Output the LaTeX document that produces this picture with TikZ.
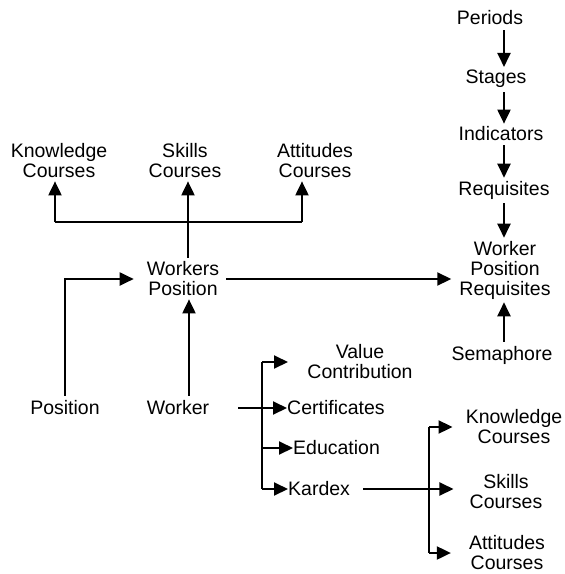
\documentclass[tikz,border=0pt]{standalone}
\usepackage{fontspec}
\setmainfont{Liberation Sans}
\usetikzlibrary{arrows.meta}
\begin{document}
\begin{tikzpicture}[x=1pt,y=-1pt,
  lbl/.style={inner sep=0pt, align=center, font=\fontsize{19.5}{20}\selectfont},
  ln/.style={line width=2pt},
  arr/.style={line width=2pt, -{Triangle[length=14pt,width=13pt]}}]
\useasboundingbox (0,0) rectangle (565,574);
% right column
\node[lbl] (periods) at (490,18) {Periods};
\node[lbl] (stages) at (496,79) {Stages};
\node[lbl] (indic) at (501,134) {Indicators};
\node[lbl] (requis) at (504,190) {Requisites};
\node[lbl] (wpr) at (505,270) {Worker\\Position\\Requisites};
\node[lbl] (sema) at (502,355) {Semaphore};
% top left courses
\node[lbl] (know1) at (59,161) {Knowledge\\Courses};
\node[lbl] (skill1) at (185,161) {Skills\\Courses};
\node[lbl] (att1) at (315,161) {Attitudes\\Courses};
\node[lbl] (wp) at (183,279) {Workers\\Position};
\node[lbl] (pos) at (65,408) {Position};
\node[lbl] (worker) at (178,408) {Worker};
% worker attributes
\node[lbl] (value) at (360,362) {Value\\Contribution};
\node[lbl, anchor=west] (cert) at (287,408) {Certificates};
\node[lbl, anchor=west] (edu) at (293,448) {Education};
\node[lbl, anchor=west] (kardex) at (288,489) {Kardex};
% bottom right courses
\node[lbl] (know2) at (514,427) {Knowledge\\Courses};
\node[lbl] (skill2) at (506,492) {Skills\\Courses};
\node[lbl] (att2) at (507,553) {Attitudes\\Courses};
% coordinates
\coordinate (col) at (504,0);
\coordinate (kb) at (55,222);
\coordinate (sb) at (188,222);
\coordinate (ab) at (302,222);
\coordinate (wbus) at (189,0);
\coordinate (vb) at (262,362);
\coordinate (vtip) at (288,362);
\coordinate (kbus) at (429,0);
% right column arrows
\draw[arr, shorten <=5pt, shorten >=3pt] (periods.south -| col) -- (stages.north -| col);
\draw[arr, shorten <=4pt, shorten >=3pt] (stages.south -| col) -- (indic.north -| col);
\draw[arr, shorten <=4pt, shorten >=3pt] (indic.south -| col) -- (requis.north -| col);
\draw[arr, shorten <=4pt, shorten >=3pt] (requis.south -| col) -- (wpr.north -| col);
\draw[arr, shorten <=4pt, shorten >=3pt] (sema.north -| col) -- (wpr.south -| col);
% courses bus
\draw[ln] (kb) -- (ab);
\draw[arr, shorten >=3pt] (kb) -- (kb |- know1.south);
\draw[arr, shorten >=3pt] (ab) -- (ab |- att1.south);
\draw[arr, shorten <=4pt, shorten >=3pt] (wp.north -| sb) -- (sb |- skill1.south);
% position / worker
\draw[arr, shorten <=5pt, shorten >=13pt] (pos.north) |- (wp.west);
\draw[arr, shorten <=5pt, shorten >=3pt] (worker.north -| wbus) -- (wp.south -| wbus);
\draw[arr, shorten >=8pt] (wp.east) ++(7,0) -- (wp.east -| wpr.west);
% worker attributes
\draw[arr, shorten <=29pt] (worker.east) -- (cert.west);
\draw[ln] (vb) -- (vb |- kardex.west);
\draw[arr] (vb) -- (vtip);
\draw[arr] (vb |- edu.west) -- (edu.west);
\draw[arr] (vb |- kardex.west) -- (kardex.west);
% kardex courses
\draw[arr, shorten <=13pt, shorten >=16pt] (kardex.east) -- (kardex.east -| skill2.west);
\draw[ln] (kbus |- know2.center) -- (kbus |- att2.center);
\draw[arr, shorten >=13pt] (kbus |- know2.center) -- (know2.west |- know2.center);
\draw[arr, shorten >=18pt] (kbus |- att2.center) -- (att2.west |- att2.center);
\end{tikzpicture}
\end{document}
